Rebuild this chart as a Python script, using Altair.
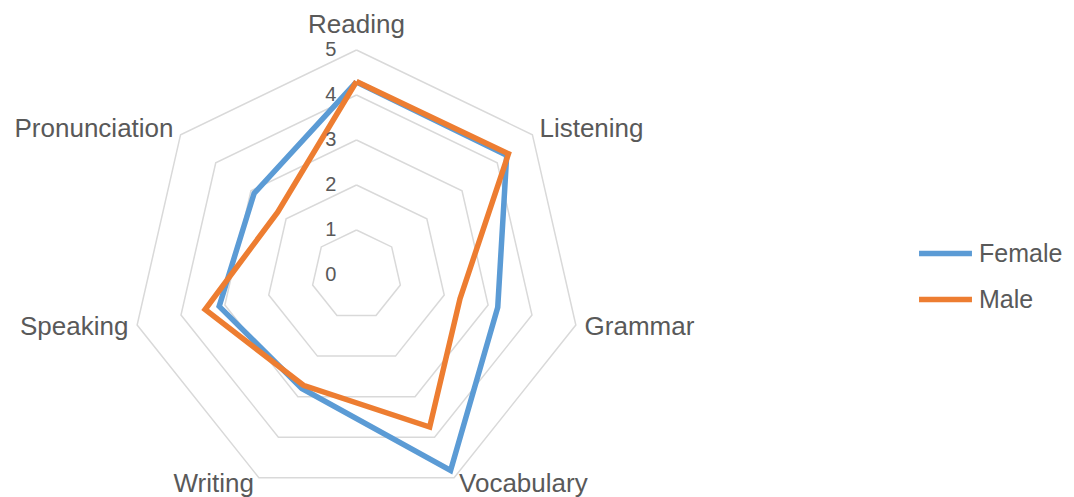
import altair as alt
import pandas as pd

categories = ["Reading", "Listening", "Grammar", "Vocabulary", "Writing", "Speaking", "Pronunciation"]
female = [4.29, 4.27, 3.22, 4.82, 2.8, 3.13, 2.91]
male = [4.3, 4.32, 2.36, 3.75, 2.72, 3.45, 2.24]
series_names = ["Female", "Male"]
series_colors = ["#5B9BD5", "#ED7D31"]
grid_levels = [1, 2, 3, 4, 5]
tick_labels = ["0", "1", "2", "3", "4", "5"]

N = len(categories)
FONT = "Liberation Sans"
TXT = "#595959"

rows = []
for name, vals in zip(series_names, [female, male]):
    for i in range(N + 1):
        rows.append({"series": name, "idx": i, "value": vals[i % N]})
series_df = pd.DataFrame(rows)

grid_df = pd.DataFrame([{"level": l, "idx": i} for l in grid_levels for i in range(N + 1)])
label_df = pd.DataFrame({"category": categories, "idx": list(range(N))})
tick_df = pd.DataFrame({"tick": tick_labels, "level": [int(t) for t in tick_labels]})

xs = alt.Scale(domain=[-7.744, 15.767], nice=False, zero=False)
ys = alt.Scale(domain=[-4.933, 5.933], nice=False, zero=False)
ang = f"2*PI*datum.idx/{N}"

grid = alt.Chart(grid_df).transform_calculate(
    px=f"datum.level*sin({ang})", py=f"datum.level*cos({ang})"
).mark_line(color="#D9D9D9", strokeWidth=1.5).encode(
    x=alt.X("px:Q", scale=xs, axis=None),
    y=alt.Y("py:Q", scale=ys, axis=None),
    detail="level:N",
    order="idx:Q",
)

series = alt.Chart(series_df).transform_calculate(
    px=f"datum.value*sin({ang})", py=f"datum.value*cos({ang})"
).mark_line(strokeWidth=5.5, strokeJoin="miter").encode(
    x=alt.X("px:Q", scale=xs, axis=None),
    y=alt.Y("py:Q", scale=ys, axis=None),
    color=alt.Color(
        "series:N",
        scale=alt.Scale(domain=series_names, range=series_colors),
        legend=alt.Legend(
            title=None, orient="none", legendX=908, legendY=216,
            symbolType="stroke", symbolSize=2800, symbolStrokeWidth=5.5,
            labelFontSize=25, labelFont=FONT, labelColor=TXT,
            rowPadding=3, labelOffset=4,
        ),
    ),
    order="idx:Q",
)

ticks = alt.Chart(tick_df).transform_calculate(
    px="0"
).mark_text(
    align="right", baseline="middle", dx=-20, fontSize=20, font=FONT, color=TXT
).encode(
    x=alt.X("px:Q", scale=xs, axis=None),
    y=alt.Y("level:Q", scale=ys, axis=None),
    text="tick:N",
)


def label_layer(cats, radius, align, baseline, dx=0, dy=0):
    return alt.Chart(label_df).transform_filter(
        alt.FieldOneOfPredicate(field="category", oneOf=cats)
    ).transform_calculate(
        px=f"{radius}*sin({ang})", py=f"{radius}*cos({ang})"
    ).mark_text(
        align=align, baseline=baseline, dx=dx, dy=dy, fontSize=26, font=FONT, color=TXT
    ).encode(
        x=alt.X("px:Q", scale=xs, axis=None),
        y=alt.Y("py:Q", scale=ys, axis=None),
        text="category:N",
    )


labels = [
    label_layer(["Reading"], 5.55, "center", "middle"),
    label_layer(["Listening", "Grammar"], 5.2, "left", "middle"),
    label_layer(["Vocabulary"], 5.2, "left", "middle", dx=1, dy=-2),
    label_layer(["Writing"], 5.2, "right", "middle", dx=-1, dy=-2),
    label_layer(["Speaking", "Pronunciation"], 5.2, "right", "middle"),
]

chart = alt.layer(grid, series, ticks, *labels).properties(
    width=1058, height=489, padding=0, autosize=alt.AutoSizeParams(type="none")
).configure_view(stroke=None)

chart.save("out.html", embed_options={"renderer": "svg", "actions": False})
